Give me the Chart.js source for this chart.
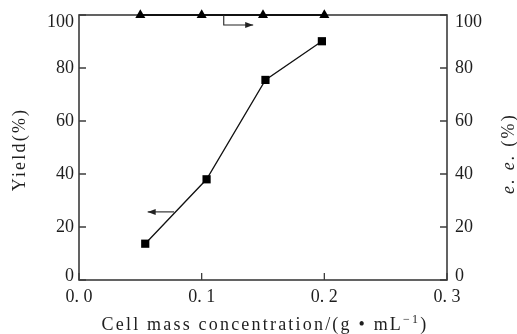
<!DOCTYPE html>
<html>
<head>
<meta charset="utf-8">
<script src="https://cdn.jsdelivr.net/npm/chart.js@4.4.1/dist/chart.umd.min.js"></script>
<style>
  body { margin: 0; background: #fff; }
  canvas { display: block; }
</style>
</head>
<body>
<canvas id="cell_chart" width="517" height="334"></canvas>
<script>
// values
const yieldConc = [0.054, 0.104, 0.152, 0.198]
const yieldValues = [13.7, 38.0, 75.5, 90.1]
const eeConc = [0.05, 0.1, 0.15, 0.2]
const eeValues = [100, 100, 100, 100]

const xTickLabels = ['0. 0', '0. 1', '0. 2', '0. 3']
const yTickLabels = ['0', '20', '40', '60', '80', '100']

// arrows telling which axis each curve belongs to (data units)
const yieldArrow = [[0.0775, 25.7], [0.056, 25.7]]
const eeArrow = [[0.118, 100], [0.118, 96.2], [0.142, 96.2]]

const FONT = '"Liberation Serif", "Times New Roman", serif'
const INK = '#1e1e1e'

const canvas = document.querySelector('#cell_chart')

function toPoints(xs, ys) {
    return xs.map((x, i) => ({ x: x, y: ys[i] }))
}

// frame, inward ticks and the y tick labels
const framePlugin = {
    id: 'frame',
    beforeDatasetsDraw(chart) {
        const { ctx, chartArea: a, scales } = chart
        ctx.save()
        ctx.strokeStyle = '#3c3c3c'
        ctx.lineWidth = 1.6
        ctx.strokeRect(a.left, a.top, a.right - a.left, a.bottom - a.top)
        ctx.lineWidth = 1.3
        ctx.beginPath()
        scales.x.ticks.forEach(t => {
            const px = scales.x.getPixelForValue(t.value)
            ctx.moveTo(px, a.bottom)
            ctx.lineTo(px, a.bottom - 7)
        })
        scales.y.ticks.forEach(t => {
            const py = scales.y.getPixelForValue(t.value)
            ctx.moveTo(a.left, py)
            ctx.lineTo(a.left + 7, py)
        })
        scales.y2.ticks.forEach(t => {
            const py = scales.y2.getPixelForValue(t.value)
            ctx.moveTo(a.right, py)
            ctx.lineTo(a.right - 7, py)
        })
        ctx.stroke()

        // y labels, the end ones pulled inside the frame like in the print
        ctx.fillStyle = INK
        ctx.font = '18px ' + FONT
        ctx.textBaseline = 'middle'
        scales.y.ticks.forEach((t, i) => {
            const py = Math.min(Math.max(scales.y.getPixelForValue(t.value), a.top + 7), a.bottom - 4)
            ctx.textAlign = 'right'
            ctx.fillText(yTickLabels[i], a.left - 5, py)
            ctx.textAlign = 'left'
            ctx.fillText(yTickLabels[i], a.right + 8, py)
        })
        ctx.restore()
    }
}

function drawArrow(ctx, pts) {
    ctx.beginPath()
    pts.forEach((p, i) => i ? ctx.lineTo(p[0], p[1]) : ctx.moveTo(p[0], p[1]))
    ctx.stroke()
    const [x1, y1] = pts[pts.length - 2]
    const [x2, y2] = pts[pts.length - 1]
    const ang = Math.atan2(y2 - y1, x2 - x1)
    ctx.beginPath()
    ctx.moveTo(x2, y2)
    ctx.lineTo(x2 - 8 * Math.cos(ang) + 3 * Math.sin(ang), y2 - 8 * Math.sin(ang) - 3 * Math.cos(ang))
    ctx.lineTo(x2 - 8 * Math.cos(ang) - 3 * Math.sin(ang), y2 - 8 * Math.sin(ang) + 3 * Math.cos(ang))
    ctx.closePath()
    ctx.fill()
}

const labelPlugin = {
    id: 'labels',
    afterDraw(chart) {
        const { ctx, chartArea: a, scales } = chart
        ctx.save()
        ctx.strokeStyle = '#222'
        ctx.fillStyle = '#222'
        ctx.lineWidth = 1.1
        drawArrow(ctx, yieldArrow.map(p => [scales.x.getPixelForValue(p[0]), scales.y.getPixelForValue(p[1])]))
        drawArrow(ctx, eeArrow.map(p => [scales.x.getPixelForValue(p[0]), scales.y2.getPixelForValue(p[1])]))

        ctx.fillStyle = INK
        ctx.letterSpacing = '2.2px'
        ctx.textBaseline = 'alphabetic'
        ctx.textAlign = 'left'

        // x title with superscript
        const main = 'Cell mass concentration/(g \u2022 mL'
        const sup = '\u22121'
        const close = ')'
        ctx.font = '18px ' + FONT
        const w1 = ctx.measureText(main).width
        const w3 = ctx.measureText(close).width
        ctx.font = '12px ' + FONT
        const w2 = ctx.measureText(sup).width
        let x = (a.left + a.right) / 2 + 2 - (w1 + w2 + w3) / 2
        const base = chart.height - 4
        ctx.font = '18px ' + FONT
        ctx.fillText(main, x, base)
        x += w1
        ctx.font = '12px ' + FONT
        ctx.fillText(sup, x, base - 7)
        x += w2
        ctx.font = '18px ' + FONT
        ctx.fillText(close, x, base)

        // left title
        ctx.textBaseline = 'middle'
        ctx.textAlign = 'center'
        ctx.save()
        ctx.translate(20, (a.top + a.bottom) / 2 + 2)
        ctx.rotate(-Math.PI / 2)
        ctx.fillText('Yield(%)', 0, 0)
        ctx.restore()

        // right title, reads bottom to top like the left one
        ctx.save()
        ctx.translate(chart.width - 8, (a.top + a.bottom) / 2 + 6)
        ctx.rotate(-Math.PI / 2)
        ctx.font = 'italic 18px ' + FONT
        const wa = ctx.measureText('e. e. ').width
        ctx.font = '18px ' + FONT
        const wb = ctx.measureText('(%)').width
        ctx.textAlign = 'left'
        ctx.font = 'italic 18px ' + FONT
        ctx.fillText('e. e. ', -(wa + wb) / 2, 0)
        ctx.font = '18px ' + FONT
        ctx.fillText('(%)', -(wa + wb) / 2 + wa, 0)
        ctx.restore()

        ctx.restore()
    }
}

function cellChart() {
    new Chart(canvas, {
        type: 'scatter',
        data: {
            datasets: [{
                label: 'Yield',
                data: toPoints(yieldConc, yieldValues),
                yAxisID: 'y',
                showLine: true,
                borderColor: '#111',
                borderWidth: 1.3,
                pointStyle: 'rect',
                pointRadius: 5.8,
                pointBackgroundColor: '#000',
                pointBorderWidth: 0,
                clip: false
            }, {
                label: 'e.e.',
                data: toPoints(eeConc, eeValues),
                yAxisID: 'y2',
                showLine: true,
                borderColor: '#111',
                borderWidth: 2,
                pointStyle: 'triangle',
                pointRadius: 5.8,
                pointBackgroundColor: '#000',
                pointBorderWidth: 0,
                clip: false
            }]
        },
        options: {
            responsive: false,
            animation: false,
            devicePixelRatio: 1,
            layout: { padding: { top: 15, left: 0, right: 0, bottom: 0 } },
            plugins: {
                legend: { display: false },
                tooltip: { enabled: false }
            },
            scales: {
                x: {
                    type: 'linear',
                    min: 0,
                    max: 0.3,
                    afterBuildTicks: s => { s.ticks = xTickLabels.map((_, i) => ({ value: i * 0.1 })) },
                    ticks: {
                        callback: (v, i) => xTickLabels[i],
                        color: INK,
                        font: { family: FONT, size: 18 },
                        padding: -2,
                        maxRotation: 0
                    },
                    grid: { display: false },
                    border: { display: false },
                    afterFit: s => { s.height = 54 }
                },
                y: {
                    position: 'left',
                    min: 0,
                    max: 100,
                    ticks: { stepSize: 20, display: false },
                    grid: { display: false },
                    border: { display: false },
                    afterFit: s => { s.width = 79 }
                },
                y2: {
                    position: 'right',
                    min: 0,
                    max: 100,
                    ticks: { stepSize: 20, display: false },
                    grid: { display: false },
                    border: { display: false },
                    afterFit: s => { s.width = 70 }
                }
            }
        },
        plugins: [framePlugin, labelPlugin]
    })
}

cellChart()
</script>
</body>
</html>
